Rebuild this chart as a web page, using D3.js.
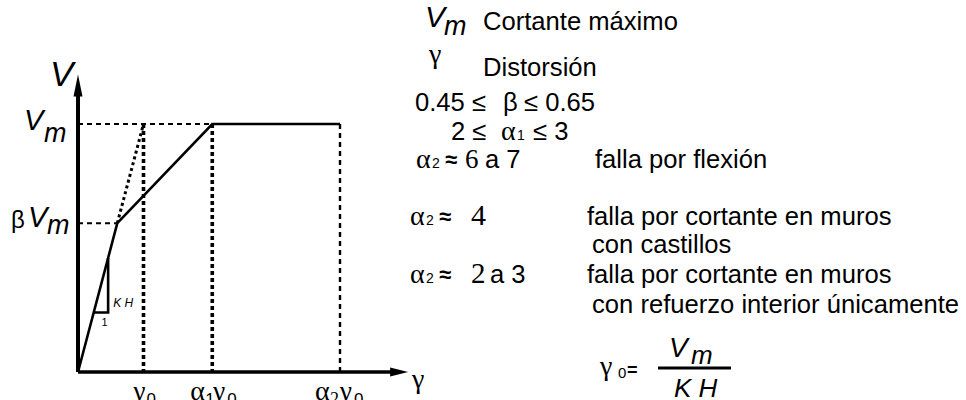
<!DOCTYPE html>
<html><head><meta charset="utf-8">
<script src="https://cdn.jsdelivr.net/npm/d3@7"></script>
<style>body{margin:0;background:#fff}svg{display:block}</style>
</head><body>
<svg id="chart" width="966" height="400"></svg>
<script>
// Trilinear shear-force / distortion envelope for masonry walls,
// expressed in units of the yield distortion (γ0) and the maximum shear (Vm).
const beta = 0.6;       // cracking level βVm
const alpha1 = 2.05;    // start of plateau α1γ0
const alpha2 = 4.0;     // ultimate distortion α2γ0

const envelopeGamma = [0, beta, alpha1, alpha2];
const envelopeV     = [0, beta, 1, 1];
const secantGamma   = [beta, 1];          // elastic line extended up to (γ0, Vm)
const secantV       = [beta, 1];
const slopeGamma    = [0.24, 0.46, 0.46]; // stiffness triangle (1 : KH)
const slopeV        = [0.24, 0.24, 0.46];
const levelV        = [beta, 1];          // βVm, Vm
const levelEndGamma = [beta, alpha1];
const tickGamma     = [1, alpha1, alpha2];
const axisMaxGamma  = 5.04;
const axisMaxV      = 1.2;

// Notes on the right
const noteRows = [
  "Cortante máximo",
  "Distorsión",
  "falla por flexión",
  "falla por cortante en muros",
  "con castillos",
  "falla por cortante en muros",
  "con refuerzo interior únicamente"
];

const SANS = "'Liberation Sans', Arial, sans-serif";
const SERIF = "'Liberation Serif', 'Times New Roman', serif";
const NOTE = 25.6;

const svg = d3.select("#chart");
const x = d3.scaleLinear().domain([0, 1]).range([78, 143.5]);
const y = d3.scaleLinear().domain([0, 1]).range([372, 124]);
const line = d3.line().x(d => x(d[0])).y(d => y(d[1]));
const zip = (a, b) => a.map((v, i) => [v, b[i]]);

// guide lines
const g = svg.append("g").attr("fill", "none").attr("stroke", "#000");
levelV.forEach((v, i) => {
  g.append("path").attr("d", line([[0, v], [levelEndGamma[i], v]]))
    .attr("stroke-width", 2).attr("stroke-dasharray", "5,4");
});
tickGamma.forEach((t, i) => {
  const last = i === tickGamma.length - 1;
  g.append("path").attr("d", line([[t, 1], [t, 0]]))
    .attr("stroke-width", last ? 2.4 : 3.6)
    .attr("stroke-dasharray", last ? "5,4" : "4,3");
});
g.append("path").attr("d", line(zip(secantGamma, secantV)))
  .attr("stroke-width", 3).attr("stroke-dasharray", "3,3");

// envelope
g.append("path").attr("d", line(zip(envelopeGamma, envelopeV)))
  .attr("stroke-width", 2.6).attr("stroke-linejoin", "miter");
// stiffness triangle
g.append("path").attr("d", line(zip(slopeGamma, slopeV)))
  .attr("stroke-width", 2.6);

// axes
g.append("path").attr("d", line([[0, 0], [0, axisMaxV - 0.06]])).attr("stroke-width", 4);
g.append("path").attr("d", line([[0, 0], [axisMaxGamma - 0.2, 0]])).attr("stroke-width", 3.5);
const ax0 = x(0), ay0 = y(0), yTip = y(axisMaxV), xTip = x(axisMaxGamma);
svg.append("path").attr("d", `M${ax0},${yTip} L${ax0 + 4.5},${yTip + 22} L${ax0 - 4.5},${yTip + 22} Z`);
svg.append("path").attr("d", `M${xTip},${ay0} L${xTip - 18},${ay0 + 4.5} L${xTip - 18},${ay0 - 4.5} Z`);

// text helper: each piece positioned on its own
function txt(px, py, s, o = {}) {
  return svg.append("text").attr("x", px).attr("y", py).text(s)
    .attr("font-family", o.f || SANS)
    .attr("font-size", o.s || NOTE)
    .attr("font-style", o.i ? "italic" : "normal")
    .attr("font-weight", o.b ? "bold" : "normal")
    .attr("text-anchor", o.a || "start")
    .attr("fill", "#000");
}

// axis titles
txt(50, 86, "V", { s: 35, i: true });
txt(412, 388, "γ", { f: SERIF, s: 28 });

// level labels
txt(24, y(1) + 6, "V", { s: 29, i: true });
txt(44, y(1) + 18, "m", { s: 27, i: true });
txt(11, y(beta) + 5, "β", { s: 24 });
txt(28, y(beta) + 4, "V", { s: 29, i: true });
txt(47, y(beta) + 11, "m", { s: 27, i: true });

// slope annotation
txt(x(0.46) + 5, y(0.24) - 5, "K H", { s: 12, i: true });
txt(x(0.36), y(0.24) + 14, "1", { s: 11 });

// distortion tick labels
const gy = 400;
txt(x(1) - 10, gy, "γ", { f: SERIF, s: 27 });
txt(x(1) + 3, gy + 5, "0", { s: 17 });
txt(x(alpha1) - 22, gy, "α", { f: SERIF, s: 28 });
txt(x(alpha1) - 7, gy + 5, "1", { s: 17 });
txt(x(alpha1) + 1, gy, "γ", { f: SERIF, s: 27 });
txt(x(alpha1) + 15, gy + 5, "0", { s: 17 });
txt(x(alpha2) - 25, gy, "α", { f: SERIF, s: 28 });
txt(x(alpha2) - 10, gy + 5, "2", { f: SERIF, s: 18 });
txt(x(alpha2) + 0, gy, "γ", { f: SERIF, s: 27 });
txt(x(alpha2) + 14, gy + 5, "0", { s: 17 });

// notes
const TX = 483;
txt(425, 27, "V", { s: 30, i: true });
txt(444, 35, "m", { s: 27, i: true });
txt(TX, 30, noteRows[0]);
txt(429, 63, "γ", { f: SERIF, s: 28 });
txt(TX, 76, noteRows[1]);

txt(415, 111, "0.45 ≤");
txt(503, 111, "β");
txt(524, 111, "≤ 0.65");

txt(451, 140, "2 ≤");
txt(501, 140, "α", { f: SERIF, s: 28 });
txt(517, 140, "1", { s: 14 });
txt(533, 140, "≤ 3");

function alphaTwo(px, py) {
  txt(px, py, "α", { f: SERIF, s: 28 });
  txt(px + 16, py, "2", { s: 14 });
  txt(px + 29, py - 1, "≈", { s: 22, b: true });
}
alphaTwo(416, 168);
txt(465, 168, "6", { f: SERIF, s: 27 });
txt(485, 168, "a 7");
txt(595, 168, noteRows[2]);

alphaTwo(410, 225);
txt(471, 225, "4", { f: SERIF, s: 30 });
txt(587, 225, noteRows[3]);
txt(592, 253, noteRows[4]);

alphaTwo(410, 283);
txt(471, 283, "2", { f: SERIF, s: 29 });
txt(490, 283, "a 3");
txt(587, 283, noteRows[5]);
txt(592, 313, noteRows[6]);

// γ0 = Vm / KH
txt(600, 375, "γ", { f: SERIF, s: 28 });
txt(618, 378, "0", { s: 15 });
txt(627, 376, "=", { s: 18, b: true });
txt(669, 357, "V", { s: 28, i: true });
txt(691, 364, "m", { s: 26, i: true });
svg.append("line").attr("x1", 658).attr("x2", 731).attr("y1", 368).attr("y2", 368)
  .attr("stroke", "#000").attr("stroke-width", 3);
txt(674, 397, "K H", { s: 26, i: true });
</script>
</body></html>
